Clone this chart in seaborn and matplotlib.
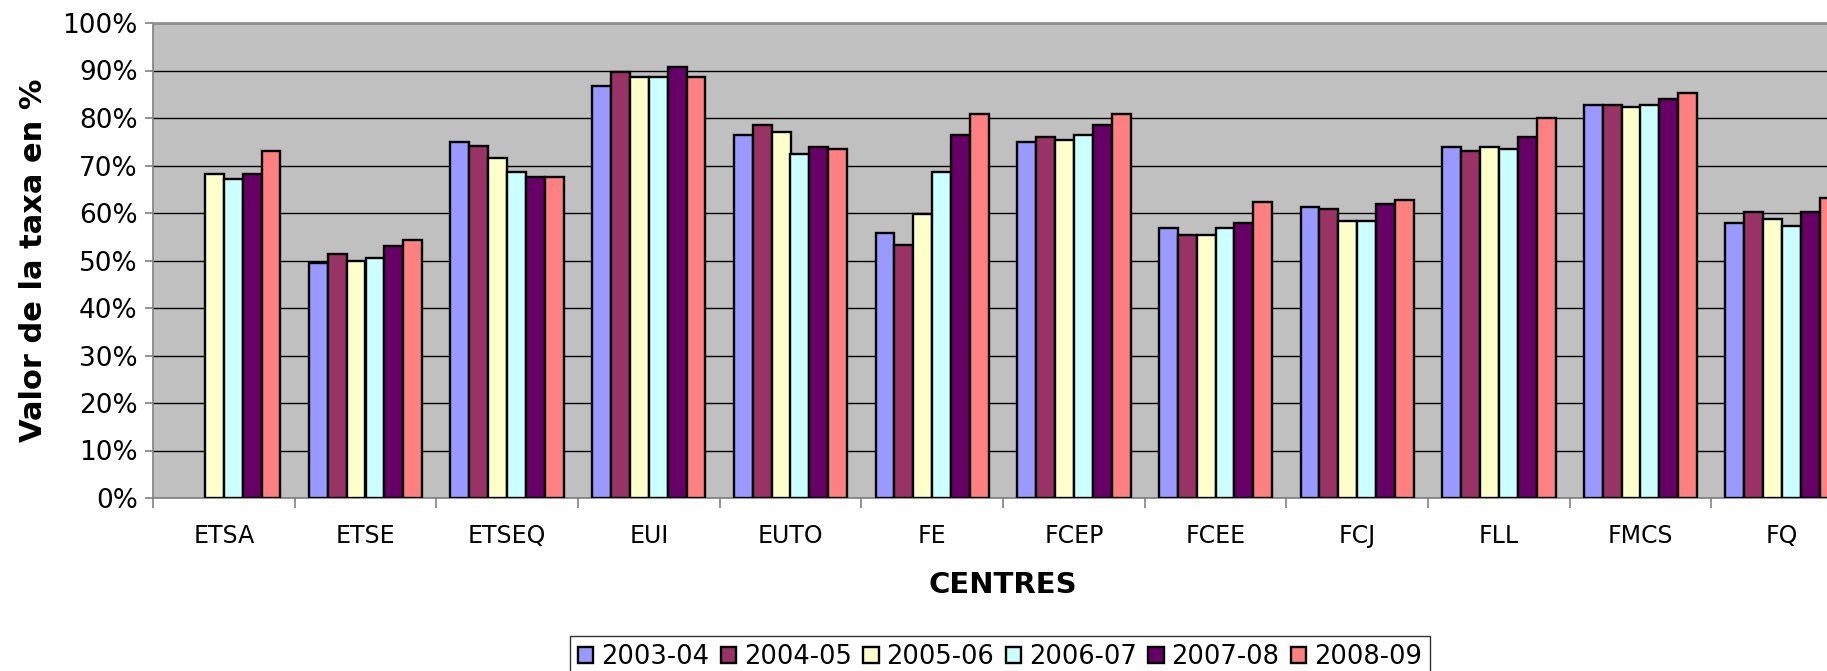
import numpy as np
import pandas as pd
import matplotlib
matplotlib.use("Agg")
import matplotlib.pyplot as plt
import seaborn as sns
from matplotlib.ticker import MultipleLocator, PercentFormatter

sns.set_theme(style="white")
plt.rcParams['font.family'] = ['DejaVu Sans']
plt.rcParams['text.color'] = 'black'
plt.rcParams['axes.labelcolor'] = 'black'
plt.rcParams['xtick.color'] = 'black'
plt.rcParams['ytick.color'] = 'black'

centres = ["ETSA", "ETSE", "ETSEQ", "EUI", "EUTO", "FE",
           "FCEP", "FCEE", "FCJ", "FLL", "FMCS", "FQ"]
years = ["2003-04", "2004-05", "2005-06", "2006-07", "2007-08", "2008-09"]

v_2003_04 = [np.nan, 49.5, 74.9, 86.8, 76.5, 55.8, 75.0, 56.8, 61.3, 74.0, 82.8, 57.9]
v_2004_05 = [np.nan, 51.4, 74.1, 89.7, 78.5, 53.3, 76.0, 55.4, 60.8, 73.0, 82.8, 60.3]
v_2005_06 = [68.2, 50.0, 71.5, 88.7, 77.0, 59.8, 75.4, 55.4, 58.3, 74.0, 82.4, 58.8]
v_2006_07 = [67.1, 50.5, 68.7, 88.7, 72.5, 68.7, 76.5, 56.8, 58.3, 73.5, 82.8, 57.3]
v_2007_08 = [68.2, 53.0, 67.6, 90.7, 74.0, 76.5, 78.5, 57.9, 61.8, 76.1, 83.9, 60.3]
v_2008_09 = [73.0, 54.4, 67.6, 88.7, 73.5, 80.9, 80.9, 62.3, 62.7, 79.9, 85.3, 63.2]

colors = ["#9999FF", "#993366", "#FFFFCC", "#CCFFFF", "#660066", "#FF8080"]

# long-form table for seaborn
series = [v_2003_04, v_2004_05, v_2005_06, v_2006_07, v_2007_08, v_2008_09]
rows = []
for year, vals in zip(years, series):
    for c, v in zip(centres, vals):
        rows.append({"centre": c, "curs": year, "taxa": v})
df = pd.DataFrame(rows)

fig = plt.figure(figsize=(18.27, 6.71), dpi=100)
# the plot area runs past the right edge, like the original (FQ is cut)
ax = fig.add_axes([153 / 1827, 173 / 671, 1700 / 1827, 475 / 671])
ax.set_facecolor("#C0C0C0")

sns.barplot(data=df, x="centre", y="taxa", hue="curs", order=centres,
            hue_order=years, palette=colors, width=0.8, edgecolor="black",
            linewidth=1.7, saturation=1, errorbar=None, ax=ax, zorder=3)

ax.set_ylim(0, 100)
ax.set_xlim(-0.5, len(centres) - 0.5)
ax.yaxis.set_major_locator(MultipleLocator(10))
ax.yaxis.set_major_formatter(PercentFormatter(decimals=0))
ax.grid(axis="y", color="black", linewidth=1.0, zorder=0)
ax.set_axisbelow(True)

for side in ["top", "right"]:
    ax.spines[side].set_visible(False)
ax.spines["left"].set_color("#808080")
ax.spines["bottom"].set_color("#808080")
ax.spines["left"].set_linewidth(1.2)
ax.spines["bottom"].set_linewidth(1.2)
ax.axhline(100, color="#909090", linewidth=2, zorder=4, clip_on=False)

# labels at group centres, tick marks between groups
ax.set_xticks(np.arange(len(centres)))
ax.set_xticklabels(centres)
ax.set_xticks(np.arange(len(centres) + 1) - 0.5, minor=True)
ax.tick_params(axis="x", which="major", length=0, pad=19, labelsize=17)
ax.tick_params(axis="x", which="minor", length=7, width=1.2,
               color="#808080", direction="out", bottom=True)
ax.tick_params(axis="y", length=6, width=1.2, color="#808080",
               direction="out", left=True, pad=5, labelsize=19)

ax.set_xlabel("CENTRES", fontsize=21, fontweight="bold", labelpad=16)
ax.set_ylabel("Valor de la taxa en %", fontsize=22, fontweight="bold", labelpad=10)

handles, labels = ax.get_legend_handles_labels()
ax.get_legend().remove()
leg = fig.legend(handles, labels, loc="lower center", ncol=6,
                 bbox_to_anchor=(1000 / 1827, -0.01), fontsize=18.5,
                 frameon=True, fancybox=False, edgecolor="black",
                 handlelength=0.6, handleheight=0.6, handletextpad=0.3,
                 columnspacing=0.45, borderpad=0.3, borderaxespad=0)
leg.get_frame().set_linewidth(1.0)

fig.savefig("out.png", dpi=100)
plt.close(fig)
